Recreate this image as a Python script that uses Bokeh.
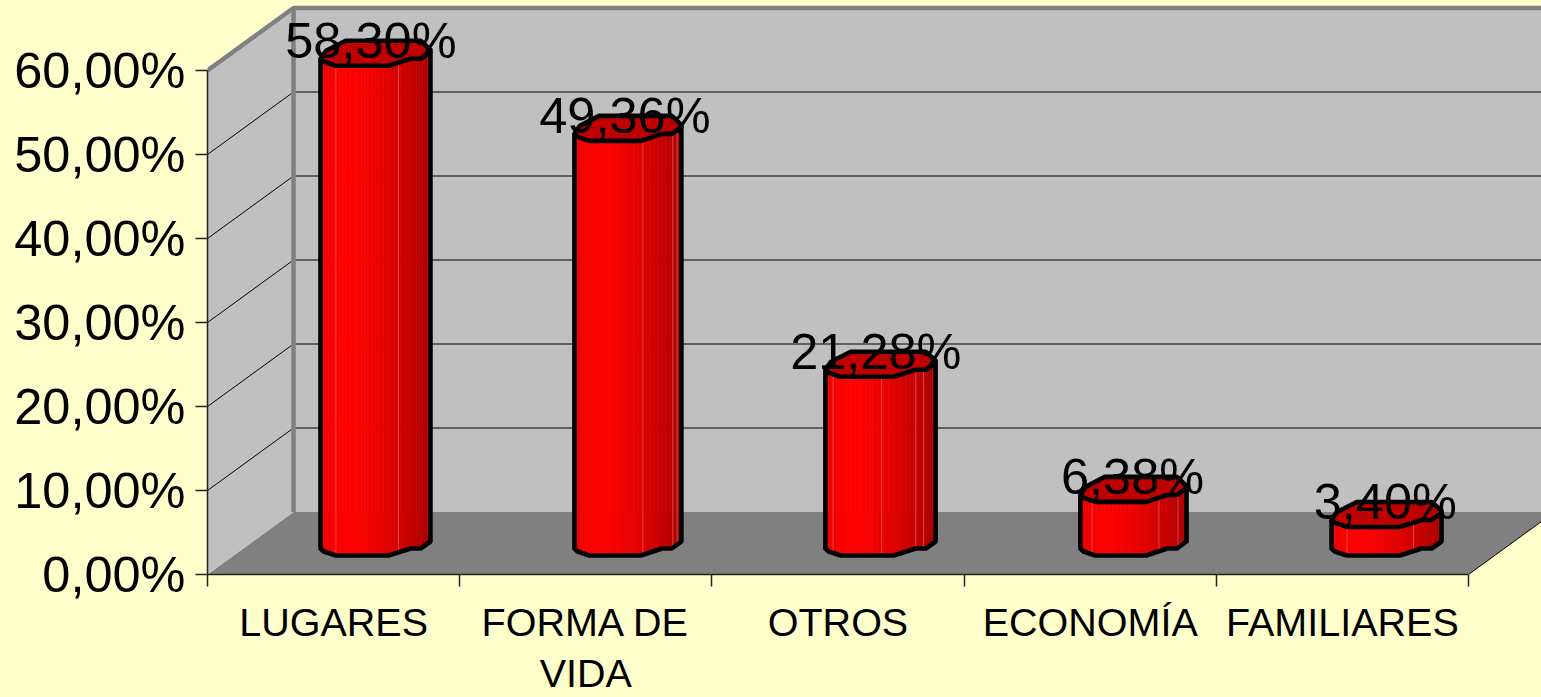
import numpy as np
from bokeh.plotting import figure
from bokeh.models import FixedTicker, LinearAxis
from bokeh.core.properties import value as V
from bokeh.embed import file_html
from bokeh.resources import INLINE

categories = ["LUGARES", "FORMA DE\nVIDA", "OTROS", "ECONOMÍA", "FAMILIARES"]
values = [58.30, 49.36, 21.28, 6.38, 3.40]
value_labels = ["58,30%", "49,36%", "21,28%", "6,38%", "3,40%"]
y_ticks = [0, 10, 20, 30, 40, 50, 60]
y_tick_labels = ["0,00%", "10,00%", "20,00%", "30,00%", "40,00%", "50,00%", "60,00%"]

# bar placement inside each category slot (layout only)
bar_left = [.448, 1.455, 2.45, 3.461, 4.457]
bar_width = [.436, .424, .437, .421, .436]
label_x = [.648, 1.655, 2.65, 3.668, 4.67]
facets = [[.14, .71], [.64, .92, .96], [.07, .51, .82, .89], [.11, .74, .92], [.14, .745]]

W, H = 1541, 697
LEFT, BOTTOM = 207, 123
UX, UY = 252.2, 8.4             # pixels per category, pixels per percentage point
XMAX, YMAX = (W - LEFT) / UX, (H - BOTTOM) / UY
DX, DY = 86 / UX, 62.5 / UY     # depth of the 3D box in data units
CREAM, WALL, FLOOR = "#FFFFCC", "#C0C0C0", "#808080"

p = figure(width=W, height=H, x_range=(0, XMAX), y_range=(0, YMAX),
           output_backend="svg", toolbar_location=None,
           min_border_left=LEFT, min_border_bottom=BOTTOM, min_border_top=0, min_border_right=0,
           background_fill_color=CREAM, border_fill_color=CREAM, outline_line_color=None)
p.grid.visible = False

# box: floor, walls
n = len(categories)
p.patch([0, n, n + DX, XMAX + 1, XMAX + 1, DX], [0, 0, DY, DY, DY, DY], fill_color=FLOOR, line_color=None)
p.patch([0, DX, DX, 0], [0, DY, 60 + DY, 60], fill_color=WALL, line_color=None)
p.patch([DX, XMAX, XMAX, DX], [DY, DY, 60 + DY, 60 + DY], fill_color=WALL, line_color=None)
p.line([n, n + DX], [0, DY], line_color="black", line_width=1)

# grid
for t in y_ticks[1:]:
    p.line([0, DX, XMAX], [t, t + DY, t + DY], line_color="black", line_width=1)
p.line([0, DX, XMAX], [60, 60 + DY, 60 + DY], line_color=FLOOR, line_width=4.5)
p.line([DX, DX], [DY, 60 + DY], line_color=FLOOR, line_width=4.5)

# bars
BASE = 19 / UY
F_U = [0, .03, .14, .62, .82, .91, 1]
F_V = [7, 4, 0, 0, 7, 7, 14]
B_U = [1, .91, .23, .05, 0]
B_V = [16, 25, 25, 15, 7]
stop_u = [0, .05, .2, .32, .62, .8, 1]
stop_r = [232, 240, 255, 255, 226, 200, 172]
edges = np.linspace(0, 1, 41)
for i, v in enumerate(values):
    x0, bw = bar_left[i], bar_width[i]
    top = BASE + v
    for a, b in zip(edges[:-1], edges[1:]):
        us = [a, b]
        vs = np.interp(us, F_U, F_V) / UY
        xs = [x0 + a * bw, x0 + b * bw]
        r = int(np.interp((a + b) / 2, stop_u, stop_r))
        col = "#%02x0000" % r
        p.patch(xs + xs[::-1], [BASE + vs[0], BASE + vs[1], top + vs[1], top + vs[0]],
                fill_color=col, line_color=col, line_width=0.6)
    # facet edges
    for u in facets[i]:
        fv = np.interp(u, F_U, F_V) / UY
        p.line([x0 + u * bw] * 2, [BASE + fv, top + fv], line_color="#f06060", line_width=0.7)
    # top face
    tx = [x0 + u * bw for u in F_U + B_U]
    ty = [top + w / UY for w in F_V + B_V]
    p.patch(tx, ty, fill_color="#bf0000", line_color="black", line_width=4.6, line_join="round")
    # silhouette: left side, bottom profile, right side
    sx = [x0 + u * bw for u in [0] + F_U + [1]]
    sy = [top + 7 / UY] + [BASE + w / UY for w in F_V] + [top + 14 / UY]
    p.line(sx, sy, line_color="black", line_width=4.6, line_join="round")

# value labels
p.text(label_x, [BASE + v for v in values], text=value_labels,
       text_font=V("Liberation Sans"), text_font_size="50.5px", text_color="black",
       text_align="center", text_baseline="alphabetic", y_offset=-25)

# axes
ya = p.yaxis[0]
ya.ticker = FixedTicker(ticks=y_ticks)
ya.major_label_overrides = dict(zip(y_ticks, y_tick_labels))
ya.bounds = (0, 60)
ya.major_tick_out = 12
ya.major_tick_in = 0
ya.minor_tick_line_color = None
ya.major_label_standoff = 10
ya.major_label_text_font = "Liberation Sans"
ya.major_label_text_font_size = "50.5px"
ya.major_label_text_color = "black"
ya.axis_line_color = ya.major_tick_line_color = "#222222"
ya.axis_line_width = ya.major_tick_line_width = 1.5

first_lines = [c.split("\n")[0] for c in categories]
xa = p.xaxis[0]
label_pos = [i + 0.5 for i in range(n)]
xa.ticker = FixedTicker(ticks=label_pos, minor_ticks=list(range(n + 1)))
xa.major_label_overrides = dict(zip(label_pos, first_lines))
xa.bounds = (0, n)
xa.major_tick_line_color = None
xa.major_tick_in = 0
xa.major_tick_out = 12
xa.minor_tick_out = 12
xa.minor_tick_in = 0
xa.major_label_standoff = 13
xa.major_label_text_font = "Liberation Sans"
xa.major_label_text_font_size = "39.5px"
xa.major_label_text_color = "black"
xa.axis_line_color = xa.minor_tick_line_color = "#222222"
xa.axis_line_width = xa.minor_tick_line_width = 1.5

# second line of a wrapped category, on an axis of its own below the first
second_pos = [label_pos[i] for i, c in enumerate(categories) if "\n" in c]
second_lines = [c.split("\n")[1] for c in categories if "\n" in c]
xb = LinearAxis(ticker=FixedTicker(ticks=second_pos), axis_line_color=None,
                major_tick_line_color=None, minor_tick_line_color=None,
                major_tick_in=0, major_tick_out=0, major_label_standoff=4,
                major_label_text_font="Liberation Sans", major_label_text_font_size="39.5px",
                major_label_text_color="black")
xb.major_label_overrides = dict(zip(second_pos, second_lines))
p.add_layout(xb, "below")

html = file_html(p, INLINE)
html = html.replace("<head>", "<head><style>html,body{background:#FFFFCC;margin:0;overflow:hidden}</style>", 1)
open("out.html", "w").write(html)
